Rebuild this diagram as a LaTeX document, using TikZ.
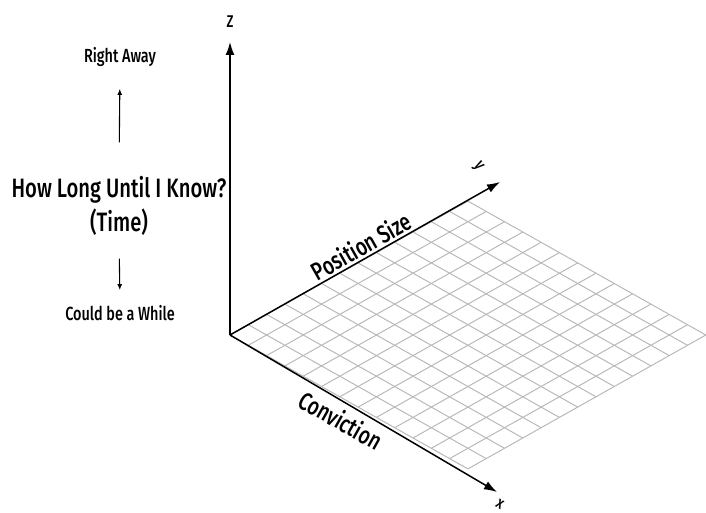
\documentclass[tikz,border=0pt]{standalone}
\usepackage{fontspec}
\setmainfont{Fira Sans}[FakeStretch=0.76, UprightFont=* Medium]
\usetikzlibrary{arrows.meta}

\begin{document}
\begin{tikzpicture}[x=1pt,y=1pt,
    axis/.style={line width=1.5pt, -{Latex[length=13pt,width=9pt]}},
    sidearrow/.style={line width=1.1pt, -{Latex[length=6pt,width=5pt]}},
    gridline/.style={gray!55, line width=1pt},
    bigtext/.style={inner sep=0pt, font=\fontsize{26.6}{26.6}\selectfont},
    smalltext/.style={inner sep=0pt, font=\fontsize{19}{19}\selectfont},
    axislabel/.style={inner sep=0pt, font=\fontsize{25}{25}\selectfont},
    letter/.style={inner sep=0pt, font=\fontsize{17}{17}\selectfont}]
  \useasboundingbox (0,0) rectangle (706,512);

  \coordinate (O) at (230,177);
  \coordinate (Zend) at (230,470);
  \coordinate (Yend) at (500,330);
  \coordinate (Xend) at (497,20);

  % floor grid
  \begin{scope}[shift={(O)}, x={(18.3pt,-10.3pt)}, y={(18.3pt,10.3pt)}]
    \foreach \i in {0,...,13} {
      \draw[gridline] (\i,0) -- (\i,13);
      \draw[gridline] (0,\i) -- (13,\i);
    }
  \end{scope}

  % axes
  \draw[axis] (O) -- (Zend);
  \draw[axis] (O) -- (Yend);
  \draw[axis] (O) -- (Xend);

  \node[letter] (zlab) at (230,490) {Z};
  \node[letter, rotate=-55] (ylab) at (478,345) {y};
  \node[letter, rotate=-30] (xlab) at (500,8) {x};

  \node[axislabel, rotate=29.4] (possize) at (361,266) {Position Size};
  \node[axislabel, rotate=-29.4] (conv) at (341,92) {Conviction};

  % time side text
  \node[smalltext] (fast) at (120,455) {Right Away};
  \node[bigtext] (time) at (119,322) {How Long Until I Know?};
  \node[bigtext] (timeb) at (119,290) {(Time)};
  \node[smalltext] (slow) at (120,199) {Could be a While};

  \draw[sidearrow, shorten <=34pt, shorten >=22pt] (time.north) -- (fast.south);
  \draw[sidearrow, shorten <=23pt, shorten >=15pt] (timeb.south) -- (slow.north);
\end{tikzpicture}
\end{document}
